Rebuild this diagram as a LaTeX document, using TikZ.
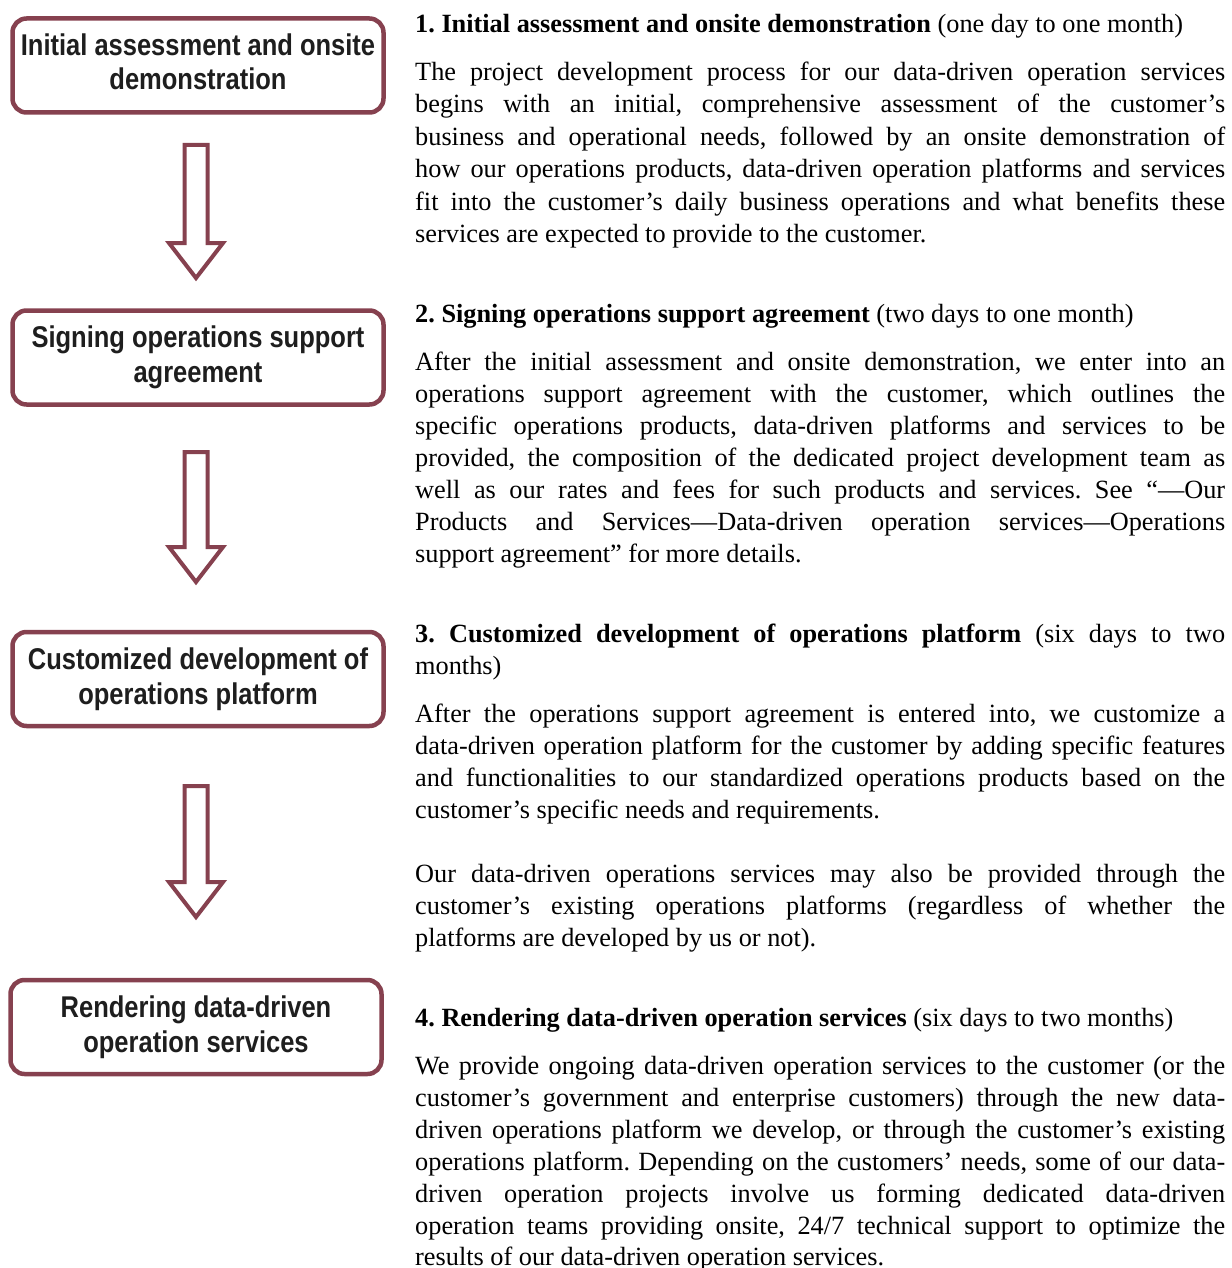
\documentclass[tikz,border=0pt]{standalone}
\usepackage{fontspec}
\setmainfont{Liberation Serif}
\newfontfamily\boxfont[FakeStretch=0.85]{Liberation Sans}
\definecolor{maroon}{HTML}{86414F}
\definecolor{boxtext}{HTML}{1E1E1E}
\frenchspacing
\newcommand{\jline}[3]{\node[bodyline] (#1) at (415,#2) {\makebox[810pt][s]{#3}};}
\newcommand{\nline}[3]{\node[bodyline] (#1) at (415,#2) {#3};}
\begin{document}
\begin{tikzpicture}[x=1pt,y=-1pt,
  stepbox/.style={draw=maroon, line width=4.5pt, rounded corners=14pt, fill=white,
    minimum width=371pt, minimum height=94pt, inner sep=0pt, align=center,
    text=boxtext, font=\boxfont\bfseries\fontsize{30pt}{35pt}\selectfont},
  bodyline/.style={anchor=base west, inner sep=0pt, text=black,
    font=\fontsize{26.3pt}{32.2pt}\selectfont},
  arrowline/.style={draw=maroon, line width=4pt, line join=miter, fill=white},
  blockarrow/.pic={\path[arrowline] (-11.5,2) -- (11.5,2) -- (11.5,#1-38) -- (27,#1-38)
    -- (0,#1-3) -- (-27,#1-38) -- (-11.5,#1-38) -- cycle;}
]
\useasboundingbox (0,0) rectangle (1231,1268);

% process steps
\node[stepbox] (b1) at (198,65.5) {\raisebox{3pt}{\begin{tabular}{@{}c@{}}Initial assessment and onsite\\[-0.5pt]demonstration\end{tabular}}};
\node[stepbox] (b2) at (198,357.5) {Signing operations support\\agreement};
\node[stepbox] (b3) at (198,679) {Customized development of\\operations platform};
\node[stepbox] (b4) at (196,1027) {Rendering data-driven\\operation services};

% hollow arrows between steps
\pic at (196,143) {blockarrow=138};
\pic at (196,450) {blockarrow=135};
\pic at (196,784) {blockarrow=136};

% step 1
\nline{h1}{33}{\textbf{1. Initial assessment and onsite demonstration} (one day to one month)}
\jline{a1}{81}{The project development process for our data-driven operation services}
\jline{a2}{113}{begins with an initial, comprehensive assessment of the customer’s}
\jline{a3}{146}{business and operational needs, followed by an onsite demonstration of}
\jline{a4}{178}{how our operations products, data-driven operation platforms and services}
\jline{a5}{210}{fit into the customer’s daily business operations and what benefits these}
\nline{a6}{242}{services are expected to provide to the customer.}

% step 2
\nline{h2}{322}{\textbf{2. Signing operations support agreement} (two days to one month)}
\jline{b1l}{370}{After the initial assessment and onsite demonstration, we enter into an}
\jline{b2l}{402}{operations support agreement with the customer, which outlines the}
\jline{b3l}{434}{specific operations products, data-driven platforms and services to be}
\jline{b4l}{466}{provided, the composition of the dedicated project development team as}
\jline{b5l}{498}{well as our rates and fees for such products and services. See “—Our}
\jline{b6l}{530}{Products and Services—Data-driven operation services—Operations}
\nline{b7l}{562}{support agreement” for more details.}

% step 3
\jline{h3}{642}{\textbf{3. Customized development of operations platform} (six days to two}
\nline{h3b}{674}{months)}
\jline{c1}{722}{After the operations support agreement is entered into, we customize a}
\jline{c2}{754}{data-driven operation platform for the customer by adding specific features}
\jline{c3}{786}{and functionalities to our standardized operations products based on the}
\nline{c4}{818}{customer’s specific needs and requirements.}
\jline{c5}{882}{Our data-driven operations services may also be provided through the}
\jline{c6}{914}{customer’s existing operations platforms (regardless of whether the}
\nline{c7}{946}{platforms are developed by us or not).}

% step 4
\nline{h4}{1026}{\textbf{4. Rendering data-driven operation services} (six days to two months)}
\jline{d1}{1074}{We provide ongoing data-driven operation services to the customer (or the}
\jline{d2}{1106}{customer’s government and enterprise customers) through the new data-}
\jline{d3}{1138}{driven operations platform we develop, or through the customer’s existing}
\jline{d4}{1170}{operations platform. Depending on the customers’ needs, some of our data-}
\jline{d5}{1202}{driven operation projects involve us forming dedicated data-driven}
\jline{d6}{1234}{operation teams providing onsite, 24/7 technical support to optimize the}
\nline{d7}{1265}{results of our data-driven operation services.}
\end{tikzpicture}
\end{document}
